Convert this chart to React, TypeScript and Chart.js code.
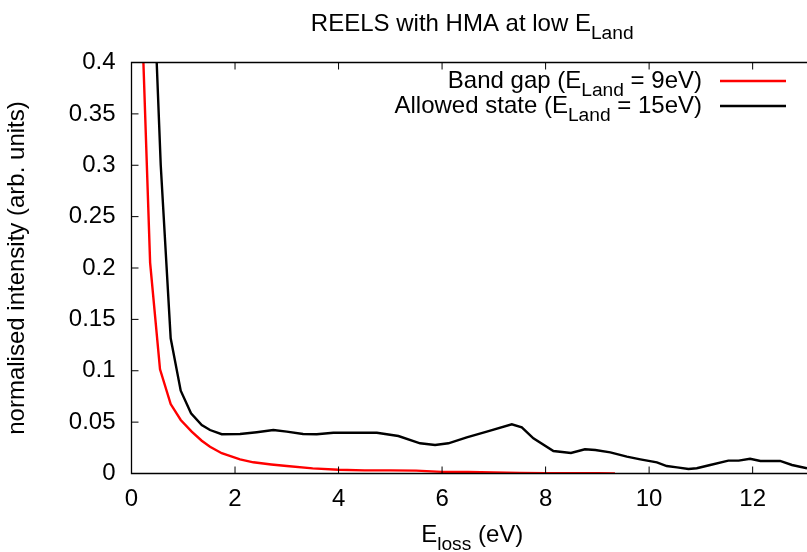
import React, { useEffect, useRef } from 'react';
import { Chart, registerables } from 'chart.js';

Chart.register(...registerables);

// Band gap (E_Land = 9eV) — red
const bandGapX = [0.17, 0.36, 0.551, 0.757, 0.951, 1.163, 1.357, 1.517, 1.743, 2.097, 2.354, 2.7, 3.0, 3.5, 4.0, 4.5, 5.0, 5.5, 6.0, 6.5, 7.0, 7.5, 8.0, 8.5, 9.0, 9.34];
const bandGapY = [0.49, 0.205, 0.1014, 0.0676, 0.0521, 0.0407, 0.0319, 0.0261, 0.0197, 0.0138, 0.0109, 0.0088, 0.0073, 0.005, 0.0036, 0.003, 0.003, 0.0028, 0.0016, 0.0015, 0.001, 0.0006, 0.0004, 0.0003, 0.0002, 0.0001];

// Allowed state (E_Land = 15eV) — black
const allowedX = [0.37, 0.565, 0.757, 0.951, 1.15, 1.357, 1.517, 1.743, 2.097, 2.42, 2.74, 3.0, 3.314, 3.579, 3.9, 4.3, 4.74, 5.156, 5.575, 5.865, 6.122, 6.477, 6.864, 7.347, 7.54, 7.764, 8.151, 8.49, 8.76, 8.96, 9.25, 9.57, 9.83, 10.15, 10.34, 10.54, 10.76, 10.92, 11.18, 11.53, 11.73, 11.95, 12.15, 12.53, 12.76, 13.05];
const allowedY = [0.55, 0.3, 0.1316, 0.0806, 0.0586, 0.0472, 0.0423, 0.0382, 0.0384, 0.0402, 0.0423, 0.0407, 0.0384, 0.0382, 0.0397, 0.0397, 0.0397, 0.0365, 0.0294, 0.0277, 0.0294, 0.0352, 0.0407, 0.0479, 0.045, 0.0343, 0.0219, 0.02, 0.0236, 0.0229, 0.0206, 0.0164, 0.0138, 0.0109, 0.0073, 0.006, 0.0044, 0.0051, 0.0083, 0.0125, 0.0125, 0.0144, 0.0122, 0.0122, 0.0083, 0.0051];

const xTicks = [0, 2, 4, 6, 8, 10, 12];
const yTicks = [0, 0.05, 0.1, 0.15, 0.2, 0.25, 0.3, 0.35, 0.4];

const FONT = '"Liberation Sans", Arial, Helvetica, sans-serif';
const FS = 24;

type Part = { text: string; sub?: boolean };

function drawRich(ctx: CanvasRenderingContext2D, parts: Part[], x: number, y: number, align: 'left' | 'center' | 'right') {
  let total = 0;
  const widths = parts.map((p) => {
    ctx.font = `${p.sub ? FS * 0.8 : FS}px ${FONT}`;
    const w = ctx.measureText(p.text).width;
    total += w;
    return w;
  });
  let cx = align === 'center' ? x - total / 2 : align === 'right' ? x - total : x;
  ctx.textAlign = 'left';
  ctx.textBaseline = 'alphabetic';
  parts.forEach((p, i) => {
    ctx.font = `${p.sub ? FS * 0.8 : FS}px ${FONT}`;
    ctx.fillText(p.text, cx, y + (p.sub ? FS * 0.32 : 0));
    cx += widths[i];
  });
}

const framePlugin = {
  id: 'gnuFrame',
  afterDraw(chart: any) {
    const ctx: CanvasRenderingContext2D = chart.ctx;
    const { left, right, top, bottom } = chart.chartArea;
    const xs = chart.scales.x;
    const ys = chart.scales.y;
    ctx.save();
    ctx.strokeStyle = '#000';
    ctx.lineWidth = 1.3;
    ctx.beginPath();
    ctx.moveTo(right + 2, top);
    ctx.lineTo(left, top);
    ctx.lineTo(left, bottom);
    ctx.lineTo(right + 2, bottom);
    ctx.stroke();
    const tl = 7;
    ctx.lineWidth = 1;
    ctx.beginPath();
    yTicks.forEach((v) => {
      const py = ys.getPixelForValue(v);
      ctx.moveTo(left, py);
      ctx.lineTo(left + tl, py);
    });
    xTicks.forEach((v) => {
      const px = xs.getPixelForValue(v);
      ctx.moveTo(px, bottom);
      ctx.lineTo(px, bottom - tl);
      ctx.moveTo(px, top);
      ctx.lineTo(px, top + tl);
    });
    ctx.stroke();

    ctx.fillStyle = '#000';
    const cx = (left + right) / 2 + 3;
    // title
    drawRich(ctx, [{ text: 'REELS with HMA at low E' }, { text: 'Land', sub: true }], cx, 31, 'center');
    // x label
    drawRich(ctx, [{ text: 'E' }, { text: 'loss', sub: true }, { text: ' (eV)' }], cx, 542, 'center');
    // y label
    ctx.save();
    ctx.translate(24, (top + bottom) / 2);
    ctx.rotate(-Math.PI / 2);
    drawRich(ctx, [{ text: 'normalised intensity (arb. units)' }], 0, 0, 'center');
    ctx.restore();

    // legend
    const legendRight = 702;
    const rows = [
      { parts: [{ text: 'Band gap (E' }, { text: 'Land', sub: true }, { text: ' = 9eV)' }], color: '#ff0000', y: 88 },
      { parts: [{ text: 'Allowed state (E' }, { text: 'Land', sub: true }, { text: ' = 15eV)' }], color: '#000000', y: 113 },
    ];
    rows.forEach((r) => {
      ctx.fillStyle = '#000';
      drawRich(ctx, r.parts, legendRight, r.y, 'right');
      ctx.strokeStyle = r.color;
      ctx.lineWidth = 2.4;
      ctx.beginPath();
      ctx.moveTo(720, r.y - 7);
      ctx.lineTo(786, r.y - 7);
      ctx.stroke();
    });
    ctx.restore();
  },
};

export default function App() {
  const ref = useRef<HTMLCanvasElement | null>(null);
  useEffect(() => {
    if (!ref.current) return;
    const chart = new Chart(ref.current, {
      type: 'line',
      data: {
        datasets: [
          {
            label: 'Band gap',
            data: bandGapX.map((x, i) => ({ x, y: bandGapY[i] })),
            borderColor: '#ff0000',
            backgroundColor: '#ff0000',
            borderWidth: 2.4,
            pointRadius: 0,
            tension: 0,
          },
          {
            label: 'Allowed state',
            data: allowedX.map((x, i) => ({ x, y: allowedY[i] })),
            borderColor: '#000000',
            backgroundColor: '#000000',
            borderWidth: 2.4,
            pointRadius: 0,
            tension: 0,
          },
        ],
      },
      options: {
        animation: false,
        responsive: false,
        layout: { padding: { top: 62.5, right: 0, left: 0, bottom: 0 } },
        plugins: { legend: { display: false }, tooltip: { enabled: false }, title: { display: false } },
        scales: {
          x: {
            type: 'linear',
            min: 0,
            max: 13.05,
            grid: { display: false, drawTicks: false },
            border: { display: false },
            ticks: { color: '#000', font: { family: FONT, size: FS }, padding: 11, callback: (v: any) => String(v) },
            afterBuildTicks: (s: any) => {
              s.ticks = xTicks.map((v) => ({ value: v }));
            },
            afterFit: (s: any) => {
              s.height = 78.5;
            },
          },
          y: {
            type: 'linear',
            min: 0,
            max: 0.4,
            grid: { display: false, drawTicks: false },
            border: { display: false },
            ticks: {
              color: '#000',
              font: { family: FONT, size: FS },
              padding: 16,
              callback: (v: any) => String(parseFloat(Number(v).toFixed(2))),
            },
            afterBuildTicks: (s: any) => {
              s.ticks = yTicks.map((v) => ({ value: v }));
            },
            afterFit: (s: any) => {
              s.width = 131.5;
            },
          },
        },
      },
      plugins: [framePlugin],
    });
    return () => chart.destroy();
  }, []);
  return (
    <div style={{ position: 'absolute', left: 0, top: 0, width: 807, height: 552, background: '#fff' }}>
      <canvas ref={ref} width={807} height={552} style={{ display: 'block' }} />
    </div>
  );
}
